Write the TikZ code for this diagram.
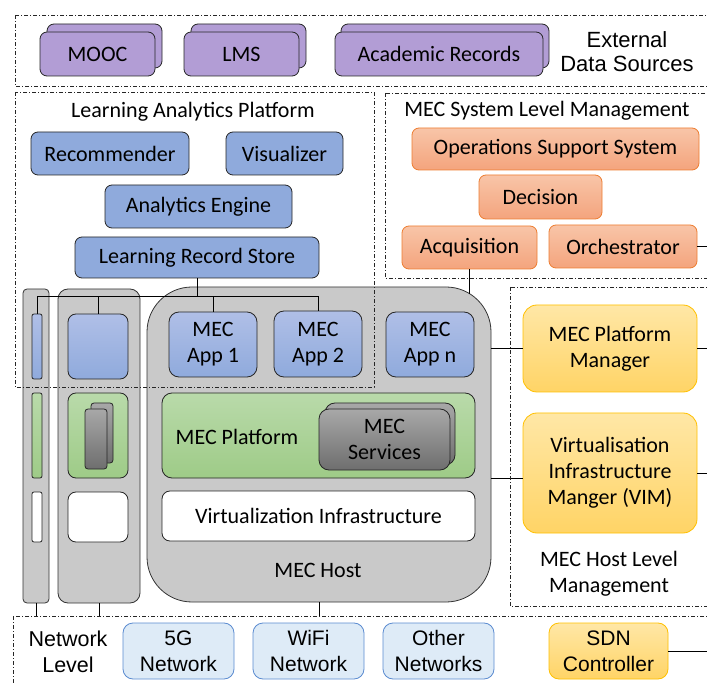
\documentclass[tikz,border=0pt]{standalone}
\usepackage{fontspec}
\setmainfont{Carlito}
\newfontfamily\arialfont{Liberation Sans}
\usetikzlibrary{calc}

\definecolor{srcpurple}{HTML}{B29DD5}
\definecolor{lapblue}{HTML}{8FAADC}
\definecolor{apptop}{HTML}{B0BFE7}
\definecolor{systop}{HTML}{F8C5A8}
\definecolor{sysbot}{HTML}{F4A47D}
\definecolor{sysorange}{HTML}{ED7D31}
\definecolor{mgrtop}{HTML}{FFE7A6}
\definecolor{mgrbot}{HTML}{FFD466}
\definecolor{mgrgold}{HTML}{FFC000}
\definecolor{plattop}{HTML}{B9DAAA}
\definecolor{platbot}{HTML}{9ECB87}
\definecolor{svctop}{HTML}{A8A8A8}
\definecolor{svcbot}{HTML}{6E6E6E}
\definecolor{hostgrey}{HTML}{C9C9C9}
\definecolor{netfill}{HTML}{DEEBF7}
\definecolor{netblue}{HTML}{5B8BD0}

\tikzset{
  frame/.style={draw=black!85, line width=0.7pt, dash pattern=on 4pt off 2pt on 1pt off 2pt},
  link/.style={draw=black, line width=0.8pt},
  tag/.style={align=center, inner sep=0pt},
  box/.style={draw=black!85, line width=0.8pt, rounded corners=7pt, align=center, inner sep=0pt, minimum height=43pt},
  srcbox/.style={box, fill=srcpurple, minimum height=44pt},
  lapbox/.style={box, fill=lapblue},
  appbox/.style={box, top color=apptop, bottom color=lapblue, minimum width=88pt, minimum height=65pt, rounded corners=10pt},
  sysbox/.style={box, draw=sysorange, top color=systop, bottom color=sysbot},
  mgrbox/.style={box, draw=mgrgold, top color=mgrtop, bottom color=mgrbot, rounded corners=14pt, minimum width=174pt},
  hostbox/.style={draw=black!80, line width=0.8pt, fill=hostgrey, inner sep=0pt},
  platbox/.style={box, top color=plattop, bottom color=platbot, rounded corners=10pt},
  svcbox/.style={box, top color=svctop, bottom color=svcbot, rounded corners=10pt},
  infbox/.style={box, fill=white, rounded corners=8pt},
  netbox/.style={box, draw=netblue, fill=netfill, font=\arialfont\fontsize{21}{26}\selectfont, minimum width=111pt, minimum height=56pt, rounded corners=10pt},
}

\begin{document}
\begin{tikzpicture}[x=1pt, y=-1pt, font=\fontsize{22}{26}\selectfont]
  \useasboundingbox (0,0) rectangle (707,684);
  \clip (0,0) rectangle (707,684);

  % external data sources
  \node (moocb) at (104.5,46) [srcbox, minimum width=115pt] {};
  \node (mooc) at (97.5,54) [srcbox, minimum width=115pt] {MOOC};
  \node (lmsb) at (248.5,46) [srcbox, minimum width=115pt] {};
  \node (lms) at (241.5,54) [srcbox, minimum width=115pt] {LMS};
  \node (recb) at (445,46) [srcbox, minimum width=208pt] {};
  \node (rec) at (439,54) [srcbox, minimum width=208pt] {Academic Records};
  \node (extsrc) at (627,52) [tag, font=\arialfont\fontsize{22}{24}\selectfont] {External\\Data Sources};

  % learning analytics platform
  \node (laptitle) at (193,112) [tag] {Learning Analytics Platform};
  \node (recomm) at (110,153.5) [lapbox, minimum width=158pt] {Recommender};
  \node (visual) at (284.5,153.5) [lapbox, minimum width=117pt] {Visualizer};
  \node (engine) at (198.5,206.5) [lapbox, minimum width=187pt] {Analytics Engine};
  \node (lrs) at (197,257.5) [lapbox, minimum width=244pt, minimum height=41pt] {Learning Record Store};

  % system level management
  \node (slmtitle) at (547,111) [tag] {MEC System Level Management};
  \node (oss) at (555.5,149) [sysbox, minimum width=287pt, minimum height=42pt] {Operations Support System};
  \node (decision) at (540.5,197) [sysbox, minimum width=123pt, minimum height=44pt] {Decision};
  \node (acq) at (469.5,247.5) [sysbox, minimum width=135pt] {Acquisition};
  \node (orch) at (623,246.5) [sysbox, minimum width=148pt] {Orchestrator};

  % small hosts
  \node (thinhost) at (36,446) [hostbox, rounded corners=4pt, minimum width=26pt, minimum height=314pt] {};
  \node (thinapp) at (37,346.5) [box, top color=apptop, bottom color=lapblue, rounded corners=2pt, minimum width=10pt, minimum height=65pt] {};
  \node (thinplat) at (37,435.5) [platbox, rounded corners=2pt, minimum width=10pt, minimum height=85pt] {};
  \node (thininf) at (37,517) [infbox, rounded corners=2pt, minimum width=10pt, minimum height=50pt] {};
  \node (medhost) at (99,446) [hostbox, rounded corners=10pt, minimum width=82pt, minimum height=314pt] {};
  \node (medapp) at (98,346.5) [appbox, rounded corners=8pt, minimum width=60pt] {};
  \node (medplat) at (98,435.5) [platbox, rounded corners=8pt, minimum width=60pt, minimum height=85pt] {};
  \node (medsvcb) at (102,433) [svcbox, rounded corners=3pt, minimum width=22pt, minimum height=60pt] {};
  \node (medsvc) at (96,439) [svcbox, rounded corners=3pt, minimum width=22pt, minimum height=60pt] {};
  \node (medinf) at (98,517) [infbox, minimum width=60pt, minimum height=50pt] {};

  % mec host
  \node (host) at (319,444.5) [hostbox, rounded corners=45pt, minimum width=344pt, minimum height=315pt] {};
  \node (app1) at (213,344.5) [appbox] {MEC\\App 1};
  \node (app2) at (318,344) [appbox, minimum height=66pt] {MEC\\App 2};
  \node (appn) at (430,344.5) [appbox] {MEC\\App n};
  \node (plat) at (318.5,435.5) [platbox, minimum width=313pt, minimum height=85pt] {};
  \node (plattext) at (237,437) [tag] {MEC Platform};
  \node (svcb) at (390,434) [svcbox, minimum width=130pt, minimum height=62pt] {};
  \node (svc) at (384.5,439.5) [svcbox, minimum width=131pt, minimum height=61pt] {MEC\\Services};
  \node (virt) at (318.5,516) [infbox, minimum width=313pt, minimum height=50pt] {Virtualization Infrastructure};
  \node (hosttext) at (318,570) [tag] {MEC Host};

  % host level management
  \node (mpm) at (610,348.5) [mgrbox, minimum height=87pt] {MEC Platform\\Manager};
  \node (vim) at (610,473) [mgrbox, minimum height=120pt] {Virtualisation\\Infrastructure\\Manger (VIM)};
  \node (hlmtitle) at (609,574) [tag] {MEC Host Level\\Management};

  % network level
  \node (netlevel) at (68,652) [tag, font=\arialfont\fontsize{21.5}{26}\selectfont] {Network\\Level};
  \node (net5g) at (178.5,651) [netbox] {5G\\Network};
  \node (netwifi) at (308.5,651) [netbox] {WiFi\\Network};
  \node (netother) at (438.5,651) [netbox] {Other\\Networks};
  \node (sdn) at (608.5,651) [netbox, draw=mgrgold, top color=mgrtop, bottom color=mgrbot, minimum width=119pt] {SDN\\Controller};

  \coordinate (bus) at (0,296);
  \coordinate (rim) at (707,0);
  \coordinate (netedge) at (0,616);
  \coordinate (acqdrop) at (470,294);
  \coordinate (vimin) at ([yshift=-5pt]vim.west);

  \draw [link] (lrs.south) -- (lrs.south |- bus);
  \draw [link] (thinapp.north) -- (thinapp.north |- bus) -- (app2.north |- bus) -- (app2.north);
  \draw [link] (medapp.north) -- (medapp.north |- bus);
  \draw [link] (app1.north) -- (app1.north |- bus);
  \draw [link] (acq.south) -- (acq.south |- acqdrop);
  \draw [link] (mpm.west -| host.east) -- (mpm.west);
  \draw [link] (vimin -| host.east) -- (vimin);
  \foreach \n in {orch, mpm, vim, sdn}
    \draw [link] (\n.east) -- (\n.east -| rim);
  \foreach \n in {thinhost, medhost, host}
    \draw [link] (\n.south) -- (\n.south |- netedge);

  % dash-dot groups
  \draw [frame] (15,15) rectangle (720,86);
  \draw [frame] (15,92) rectangle (374,387);
  \draw [frame] (385,93) rectangle (720,278);
  \draw [frame] (510,287) rectangle (720,606);
  \draw [frame] (13,616) rectangle (720,700);
\end{tikzpicture}
\end{document}
